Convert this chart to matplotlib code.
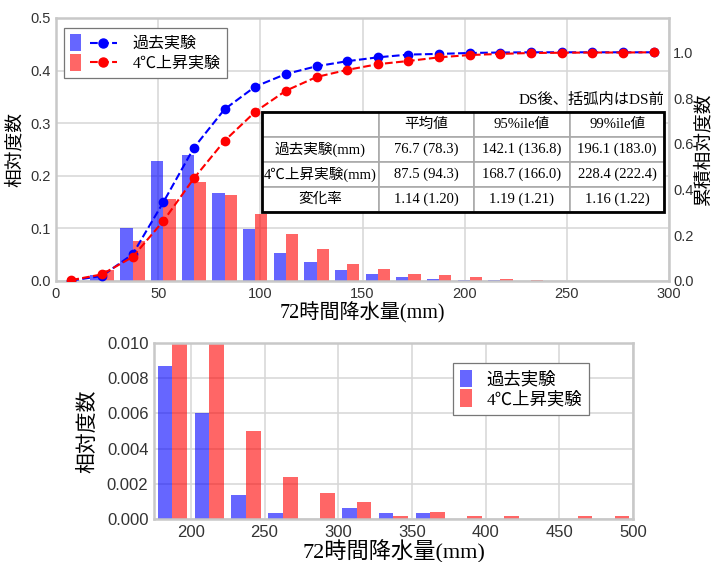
import matplotlib
matplotlib.use("Agg")
import matplotlib.pyplot as plt
import numpy as np
from matplotlib.font_manager import FontProperties
from matplotlib.legend_handler import HandlerBase
from matplotlib.lines import Line2D
from matplotlib.patches import Rectangle

# --- data ---
bin_centers = [7.5, 22.5, 37.5, 52.5, 67.5, 82.5, 97.5, 112.5, 127.5, 142.5,
               157.5, 172.5, 187.5, 202.5, 217.5, 232.5, 247.5, 262.5, 277.5, 292.5]
past_freq = [0.0, 0.011, 0.100, 0.229, 0.240, 0.167, 0.099, 0.053, 0.036, 0.021,
             0.014, 0.0076, 0.004, 0.002, 0.002, 0.0, 0.0, 0.0, 0.0, 0.0]
warm_freq = [0.0, 0.021, 0.076, 0.156, 0.188, 0.163, 0.127, 0.089, 0.061, 0.032,
             0.022, 0.0133, 0.0114, 0.0076, 0.004, 0.002, 0.0, 0.0, 0.0, 0.0]
past_cum = [0.002, 0.022, 0.117, 0.344, 0.583, 0.751, 0.850, 0.905, 0.939, 0.961,
            0.978, 0.990, 0.993, 0.997, 0.999, 1.0, 1.0, 1.0, 1.0, 1.0]
warm_cum = [0.004, 0.029, 0.105, 0.262, 0.449, 0.613, 0.740, 0.832, 0.892, 0.923,
            0.948, 0.962, 0.978, 0.988, 0.993, 0.997, 0.998, 0.999, 0.999, 1.0]

tail_centers = [187.5, 212.5, 237.5, 262.5, 287.5, 312.5, 337.5, 362.5,
                387.5, 412.5, 437.5, 462.5, 487.5]
tail_past = [0.0087, 0.0060, 0.00134, 0.00032, 0.0, 0.00064, 0.00032, 0.00032,
             0.0, 0.0, 0.0, 0.0, 0.0]
tail_warm = [0.012, 0.011, 0.0050, 0.0024, 0.00146, 0.00095, 0.00019, 0.00038,
             0.00019, 0.00019, 0.0, 0.00019, 0.00019]

labels = ["過去実験", "4℃上昇実験"]
col_labels = ["", "平均値", "95%ile値", "99%ile値"]
row_labels = ["過去実験(mm)", "4℃上昇実験(mm)", "変化率"]
table_values = [["76.7 (78.3)", "142.1 (136.8)", "196.1 (183.0)"],
                ["87.5 (94.3)", "168.7 (166.0)", "228.4 (222.4)"],
                ["1.14 (1.20)", "1.19 (1.21)", "1.16 (1.22)"]]
table_note = "DS後、括弧内はDS前"

JP = ["Liberation Serif", "Noto Sans CJK JP"]
plt.rcParams["font.family"] = ["Liberation Sans", "DejaVu Sans"]
BLUE_BAR, RED_BAR = "#6666ff", "#ff6666"
SPINE = "#c8c8c8"
TICK_COLOR = "#333333"


def style_axes(ax, tick_size):
    for s in ax.spines.values():
        s.set_color(SPINE)
        s.set_linewidth(1.8)
    ax.tick_params(length=0, labelsize=tick_size, colors=TICK_COLOR, pad=4)
    ax.grid(True, color="#d6d6d6", linewidth=1.1)
    ax.set_axisbelow(True)


class PatchLineHandler(HandlerBase):
    def create_artists(self, legend, orig_handle, xdescent, ydescent,
                       width, height, fontsize, trans):
        bar_color, line_color = orig_handle
        rect = Rectangle((-xdescent, -ydescent), width * 0.24, height,
                         facecolor=bar_color, edgecolor="none", transform=trans)
        ym = -ydescent + height / 2
        x0 = -xdescent + width * 0.43
        x1 = -xdescent + width
        ln = Line2D([x0, x1], [ym, ym], color=line_color, linestyle="--",
                    linewidth=1.5, transform=trans)
        mk = Line2D([(x0 + x1) / 2], [ym], color=line_color, marker="o",
                    markersize=6.5, linestyle="none", transform=trans)
        return [rect, ln, mk]


fig = plt.figure(figsize=(7.17, 5.62), dpi=100)

# --- top panel ---
ax = fig.add_axes([0.0781, 0.5, 0.855, 0.468])
style_axes(ax, 10.5)
centers = np.array(bin_centers)
ax.bar(centers - 3, past_freq, width=6, color="blue", alpha=0.6, linewidth=0)
ax.bar(centers + 3, warm_freq, width=6, color="red", alpha=0.6, linewidth=0)
ax.set_xlim(0, 300)
ax.set_ylim(0, 0.5)
ax.set_xticks(np.arange(0, 301, 50))
ax.set_yticks(np.arange(0, 0.51, 0.1))
ax.yaxis.set_major_formatter(plt.FormatStrFormatter("%.1f"))
ax.set_xlabel("72時間降水量(mm)", fontfamily=JP, fontsize=14.5, labelpad=1)
ax.set_ylabel("相対度数", fontfamily=JP, fontsize=13.5, labelpad=4)

ax2 = ax.twinx()
for s in ax2.spines.values():
    s.set_visible(False)
ax2.tick_params(length=0, labelsize=10.5, colors=TICK_COLOR, pad=3)
ax2.plot(bin_centers, past_cum, "--o", color="blue", linewidth=1.5, markersize=6)
ax2.plot(bin_centers, warm_cum, "--o", color="red", linewidth=1.5, markersize=6)
ax2.set_ylim(0, 1.15)
ax2.set_yticks(np.arange(0, 1.01, 0.2))
ax2.yaxis.set_major_formatter(plt.FormatStrFormatter("%.1f"))
ax2.set_ylabel("累積相対度数", fontfamily=JP, fontsize=13.5, labelpad=1)

leg = ax2.legend([(BLUE_BAR, "blue"), (RED_BAR, "red")], labels,
                 handler_map={tuple: PatchLineHandler()},
                 loc="upper left", bbox_to_anchor=(0.013, 0.962),
                 prop=FontProperties(family=JP, size=11.5),
                 handlelength=2.9, handleheight=1.25, labelspacing=0.1,
                 handletextpad=1.0, borderpad=0.4, borderaxespad=0,
                 fancybox=False, framealpha=1)
leg.get_frame().set_edgecolor("#777777")
leg.get_frame().set_linewidth(0.9)

cell_text = [col_labels] + [[r] + v for r, v in zip(row_labels, table_values)]
tbox = [0.336, 0.262, 0.656, 0.380]
tbl = ax2.table(cellText=cell_text, cellLoc="center", bbox=tbox,
                colWidths=[0.291, 0.236, 0.239, 0.234])
tbl.auto_set_font_size(False)
for cell in tbl.get_celld().values():
    cell.set_edgecolor("#aaaaaa")
    cell.set_linewidth(1.2)
    cell.get_text().set_fontfamily(JP)
    cell.get_text().set_fontsize(10.5)
tbl.set_zorder(5)
ax2.add_patch(Rectangle((tbox[0], tbox[1]), tbox[2], tbox[3], transform=ax2.transAxes,
                        fill=False, edgecolor="black", linewidth=2, zorder=6))
ax2.text(tbox[0] + tbox[2], 0.688, table_note, transform=ax2.transAxes,
         ha="right", va="center", fontfamily=JP, fontsize=11, zorder=6)

# --- bottom panel ---
bx = fig.add_axes([0.2148, 0.0765, 0.668, 0.313])
style_axes(bx, 12)
tc = np.array(tail_centers)
b1 = bx.bar(tc - 5, tail_past, width=10, color="blue", alpha=0.6, linewidth=0)
b2 = bx.bar(tc + 5, tail_warm, width=10, color="red", alpha=0.6, linewidth=0)
bx.set_xlim(175, 500)
bx.set_ylim(0, 0.010)
bx.set_xticks(np.arange(200, 501, 50))
bx.set_yticks(np.arange(0, 0.0101, 0.002))
bx.yaxis.set_major_formatter(plt.FormatStrFormatter("%.3f"))
bx.set_xlabel("72時間降水量(mm)", fontfamily=JP, fontsize=16, labelpad=0)
bx.set_ylabel("相対度数", fontfamily=JP, fontsize=15, labelpad=6)
leg2 = bx.legend([b1, b2], labels, loc="upper left", bbox_to_anchor=(0.624, 0.886),
                 prop=FontProperties(family=JP, size=12.5),
                 handlelength=0.7, handleheight=1.15, labelspacing=0.05,
                 handletextpad=0.85, borderpad=0.4, borderaxespad=0,
                 fancybox=False, framealpha=1)
leg2.get_frame().set_edgecolor("#777777")
leg2.get_frame().set_linewidth(0.9)

fig.savefig("out.png", dpi=100)
